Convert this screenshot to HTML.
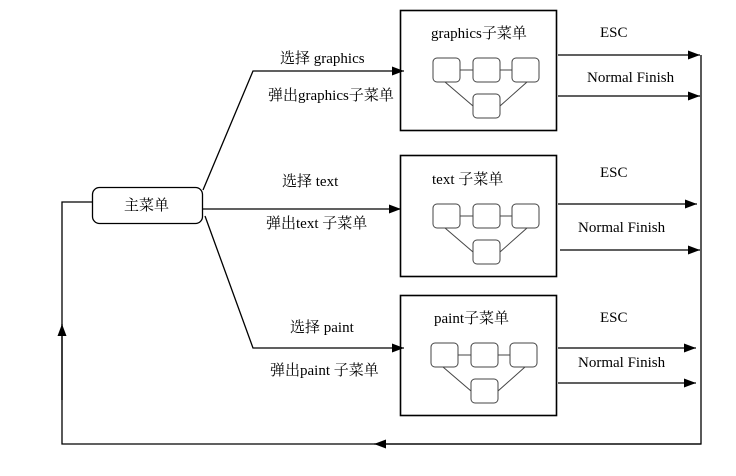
<!DOCTYPE html>
<html><head><meta charset="utf-8"><style>
html,body{margin:0;padding:0;background:#fff;}
svg{display:block;}
text{font-family:"Liberation Serif","Noto Serif CJK SC",serif;font-size:15px;fill:#000;}
</style></head><body>
<svg width="736" height="476" viewBox="0 0 736 476" xmlns="http://www.w3.org/2000/svg">
<defs>
<marker id="a" markerWidth="12" markerHeight="9" refX="12" refY="4.5" orient="auto" markerUnits="userSpaceOnUse"><path d="M0,0L12,4.5L0,9Z" fill="#000"/></marker>
<g id="mini" fill="#fff" stroke="#444" stroke-width="1">
<line x1="27" y1="12" x2="40" y2="12"/><line x1="67" y1="12" x2="79" y2="12"/>
<line x1="12" y1="24" x2="40" y2="48"/><line x1="94" y1="24" x2="67" y2="48"/>
<rect x="0" y="0" width="27" height="24" rx="4"/><rect x="40" y="0" width="27" height="24" rx="4"/><rect x="79" y="0" width="27" height="24" rx="4"/>
<rect x="40" y="36" width="27" height="24" rx="4"/>
</g>
</defs>
<g stroke="#000" stroke-width="1.3" fill="none">
<rect x="92.5" y="187.5" width="110" height="36" rx="7"/>
<polyline points="203,190 253,71 404,71" marker-end="url(#a)"/>
<line x1="203" y1="209" x2="401" y2="209" marker-end="url(#a)"/>
<polyline points="205,216 253,348 404,348" marker-end="url(#a)"/>
<rect x="400.5" y="10.5" width="156" height="120" stroke-width="1.6"/>
<rect x="400.5" y="155.5" width="156" height="121" stroke-width="1.6"/>
<rect x="400.5" y="295.5" width="156" height="120" stroke-width="1.6"/>
<line x1="558" y1="55" x2="700" y2="55" marker-end="url(#a)"/>
<line x1="558" y1="96" x2="700" y2="96" marker-end="url(#a)"/>
<line x1="558" y1="204" x2="697" y2="204" marker-end="url(#a)"/>
<line x1="560" y1="250" x2="700" y2="250" marker-end="url(#a)"/>
<line x1="558" y1="348" x2="696" y2="348" marker-end="url(#a)"/>
<line x1="558" y1="383" x2="696" y2="383" marker-end="url(#a)"/>
<polyline points="701,55 701,444 62,444 62,202 92,202"/>
<line x1="701" y1="444" x2="374" y2="444" marker-end="url(#a)"/>
<line x1="62" y1="400" x2="62" y2="324" marker-end="url(#a)"/>
</g>
<use href="#mini" x="433" y="58"/>
<use href="#mini" x="433" y="204"/>
<use href="#mini" x="431" y="343"/>
<text x="124" y="210">主菜单</text>
<text x="431" y="38">graphics子菜单</text>
<text x="432" y="184">text 子菜单</text>
<text x="434" y="323">paint子菜单</text>
<text x="600" y="37">ESC</text>
<text x="587" y="82">Normal Finish</text>
<text x="600" y="177">ESC</text>
<text x="578" y="232">Normal Finish</text>
<text x="600" y="322">ESC</text>
<text x="578" y="367">Normal Finish</text>
<text x="280" y="63">选择 graphics</text>
<text x="268" y="100">弹出graphics子菜单</text>
<text x="282" y="186">选择 text</text>
<text x="266" y="228">弹出text  子菜单</text>
<text x="290" y="332">选择 paint</text>
<text x="270" y="375">弹出paint 子菜单</text>
</svg>
</body></html>
